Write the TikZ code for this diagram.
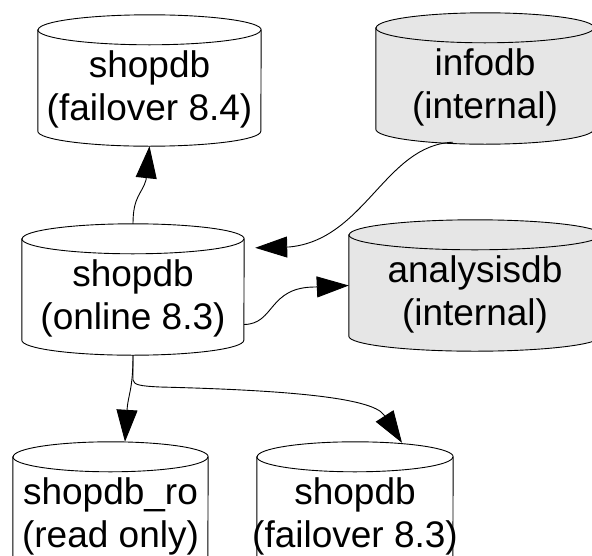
\documentclass[tikz,border=0pt]{standalone}
\usepackage{fontspec}
\setmainfont{Liberation Sans}
\usetikzlibrary{arrows.meta,calc}

\definecolor{internalgrey}{RGB}{230,230,230}

\tikzset{
  dbbox/.style={draw=none, inner sep=0pt, minimum height=131pt},
  dblabel/.style={align=center, inner sep=0pt, font=\fontsize{37}{43}\selectfont},
  dbline/.style={line width=0.9pt, draw=black},
  link/.style={line width=0.9pt, -{Triangle[length=32pt,width=21pt]}},
}

% Cylinder outline around an existing box node: #1 name, #2 width, #3 fill, #4 label
\newcommand\dbshape[4]{%
  \filldraw[dbline, fill=#3]
    ($(#1.north west)+(0,-15pt)$) -- ($(#1.south west)+(0,15pt)$)
    arc[start angle=180, end angle=360, x radius=#2pt/2, y radius=15pt]
    -- ($(#1.north east)+(0,-15pt)$)
    arc[start angle=0, end angle=180, x radius=#2pt/2, y radius=15pt] -- cycle;
  \draw[dbline] ($(#1.north west)+(0,-15pt)$)
    arc[start angle=180, end angle=360, x radius=#2pt/2, y radius=15pt];
  \node[dblabel, yshift=-8.5pt] (#1-label) at (#1.center) {#4};
}

\begin{document}
\begin{tikzpicture}[x=1pt, y=1pt]
  \useasboundingbox (0,0) rectangle (592,-555);
  \clip (0,0) rectangle (592,-555);

  % database boxes
  \node[dbbox, minimum width=223pt] (n1)   at (149.5,-80.5)  {};
  \node[dbbox, minimum width=218pt] (info) at (485,-78.5)    {};
  \node[dbbox, minimum width=222pt] (mid)  at (133,-289.5)   {};
  \node[dbbox, minimum width=252pt] (ana)  at (475,-285.5)   {};
  \node[dbbox, minimum width=195pt] (ro)   at (110.5,-507.5) {};
  \node[dbbox, minimum width=196pt] (fo83) at (355,-507.5)   {};

  \dbshape{n1}{223}{white}{shopdb\\(failover 8.4)}
  \dbshape{info}{218}{internalgrey}{infodb\\(internal)}
  \dbshape{mid}{222}{white}{shopdb\\(online 8.3)}
  \dbshape{ana}{252}{internalgrey}{analysisdb\\(internal)}
  \dbshape{ro}{195}{white}{shopdb\_ro\\(read only)}
  \dbshape{fo83}{196}{white}{shopdb\\(failover 8.3)}

  % replication links
  \draw[link] (mid.north) .. controls (133,-196) and (142,-194) .. (146,-180)
    -- (n1.south);
  \draw[link] ([xshift=-32pt,yshift=2pt]info.south)
    .. controls (385,-145) and (365,-240) .. (289,-247)
    -- ([shift={(11pt,-24pt)}]mid.north east);
  \draw[link] ([yshift=-35pt]mid.east)
    .. controls (275,-324) and (268,-287) .. (315,-287) -- (ana.west);
  \draw[link] (mid.south) .. controls (133,-390) and (128,-395) .. (127,-410)
    -- ([xshift=14.5pt]ro.north);
  \draw[link] (mid.south) -- (133,-380)
    .. controls (134,-385) and (140,-386) .. (160,-387)
    .. controls (280,-390) and (372,-397) .. (384,-415)
    -- ([xshift=47pt,yshift=-1pt]fo83.north);
\end{tikzpicture}
\end{document}
